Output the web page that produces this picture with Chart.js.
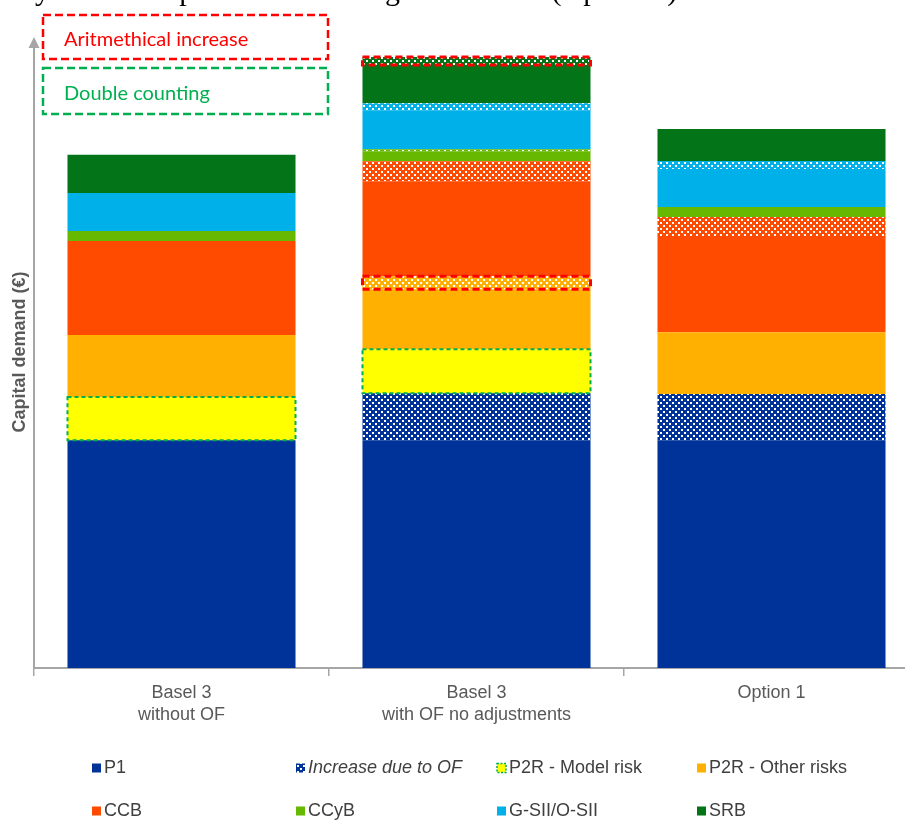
<!DOCTYPE html>
<html lang="en">
<head>
<meta charset="UTF-8">
<title>Capital demand stacking</title>
<script src="https://cdn.jsdelivr.net/npm/chart.js"></script>
<style>
  html, body { margin: 0; padding: 0; background: #fff; overflow: hidden; }
  #wrap { position: relative; width: 920px; height: 820px; }
</style>
</head>
<body>
<div id="wrap"><canvas id="stackChart" width="920" height="820"></canvas></div>
<script>
// categories on the x axis (multi-line labels as arrays)
const categories = [['Basel 3', 'without OF'], ['Basel 3', 'with OF no adjustments'], 'Option 1'];

// layer heights, one arbitrary unit (P1 = 100), bottom to top
const p1         = [100, 100, 100];
const increaseOF = [0, 20.6, 20.2];
const p2rModel   = [18.9, 19.3, 0];
const p2rOther   = [27.2, 26.3, 27.2];
const p2rOtherOF = [0, 5.7, 0];
const ccb        = [41.3, 41.7, 41.7];
const ccbOF      = [0, 8.8, 8.8];
const ccyb       = [4.4, 4.4, 4.4];
const ccybOF     = [0, 0.9, 0];
const gsii       = [16.7, 17.1, 16.7];
const gsiiOF     = [0, 3.1, 3.5];
const srb        = [16.7, 16.7, 14.0];
const srbOF      = [0, 3.5, 0];
const yMax = 280;

const SANS = '"Liberation Sans", Arial, sans-serif';
const RED = '#ff0000';
const GREEN = '#00b050';
const col = {
  p1: '#003399', model: '#ffff00', other: '#ffb000', ccb: '#ff4b00',
  ccyb: '#66b800', gsii: '#00b0e8', srb: '#037518'
};

const canvas = document.getElementById('stackChart');
const ctx = canvas.getContext('2d');

// white dotted fill used for the output-floor increases
function dots(color) {
  const c = document.createElement('canvas');
  c.width = 6; c.height = 6;
  const g = c.getContext('2d');
  g.fillStyle = color; g.fillRect(0, 0, 6, 6);
  g.fillStyle = '#ffffff';
  g.fillRect(0, 0, 2, 2);
  g.fillRect(3, 3, 2, 2);
  return ctx.createPattern(c, 'repeat');
}

const datasets = [
  { label: 'P1', data: p1, backgroundColor: col.p1 },
  { label: 'Increase due to OF', data: increaseOF, backgroundColor: dots(col.p1), italic: true },
  { label: 'P2R - Model risk', data: p2rModel, backgroundColor: col.model, outline: { color: GREEN, bars: [0, 1], width: 2, dash: [4, 3] } },
  { label: 'P2R - Other risks', data: p2rOther, backgroundColor: col.other },
  { label: 'P2R - Other risks (OF)', data: p2rOtherOF, backgroundColor: dots(col.other), noLegend: true, outline: { color: RED, bars: [1], width: 3, dash: [7, 4] } },
  { label: 'CCB', data: ccb, backgroundColor: col.ccb },
  { label: 'CCB (OF)', data: ccbOF, backgroundColor: dots(col.ccb), noLegend: true },
  { label: 'CCyB', data: ccyb, backgroundColor: col.ccyb },
  { label: 'CCyB (OF)', data: ccybOF, backgroundColor: dots(col.ccyb), noLegend: true },
  { label: 'G-SII/O-SII', data: gsii, backgroundColor: col.gsii },
  { label: 'G-SII/O-SII (OF)', data: gsiiOF, backgroundColor: dots(col.gsii), noLegend: true },
  { label: 'SRB', data: srb, backgroundColor: col.srb },
  { label: 'SRB (OF)', data: srbOF, backgroundColor: dots(col.srb), noLegend: true, outline: { color: RED, bars: [1], width: 3, dash: [7, 4] } }
];
datasets.forEach(d => { d.borderWidth = 0; d.barPercentage = 0.773; d.categoryPercentage = 1.0; });

const decorations = {
  id: 'decorations',
  afterDatasetsDraw(chart) {
    const c = chart.ctx;
    chart.data.datasets.forEach((ds, i) => {
      if (!ds.outline) return;
      const meta = chart.getDatasetMeta(i);
      ds.outline.bars.forEach(b => {
        const el = meta.data[b];
        const p = el.getProps(['x', 'y', 'base', 'width'], true);
        c.save();
        c.strokeStyle = ds.outline.color;
        c.lineWidth = ds.outline.width;
        c.setLineDash(ds.outline.dash);
        c.strokeRect(p.x - p.width / 2, p.y, p.width, p.base - p.y);
        c.restore();
      });
    });
  },
  afterDraw(chart) {
    const c = chart.ctx;
    const a = chart.chartArea;
    c.save();

    // clipped heading above the chart (only descenders visible)
    c.fillStyle = '#000';
    c.font = '30px "Liberation Serif", serif';
    c.textBaseline = 'alphabetic';
    c.textAlign = 'left';
    c.fillText('Stylised example of the stacking mechanism (Option 1)', 10, 0);

    // y axis with arrow head
    c.strokeStyle = '#a6a6a6';
    c.fillStyle = '#a6a6a6';
    c.lineWidth = 2;
    c.beginPath();
    c.moveTo(a.left, a.bottom);
    c.lineTo(a.left, a.top + 15);
    c.stroke();
    c.beginPath();
    c.moveTo(a.left, a.top + 7);
    c.lineTo(a.left - 5.5, a.top + 18);
    c.lineTo(a.left + 5.5, a.top + 18);
    c.closePath();
    c.fill();

    // y axis title
    c.save();
    c.translate(20, 352);
    c.rotate(-Math.PI / 2);
    c.fillStyle = '#595959';
    c.font = 'bold 18px ' + SANS;
    c.textAlign = 'center';
    c.textBaseline = 'middle';
    c.fillText('Capital demand (€)', 0, 0);
    c.restore();

    // annotation key boxes
    c.lineWidth = 2.5;
    c.setLineDash([8, 4]);
    c.strokeStyle = RED;
    c.strokeRect(43, 15, 285, 44);
    c.strokeStyle = GREEN;
    c.strokeRect(43, 68, 285, 46);
    c.setLineDash([]);
    c.font = '20px Lato, sans-serif';
    c.textBaseline = 'alphabetic';
    c.fillStyle = RED;
    c.fillText('Aritmethical increase', 64, 46);
    c.fillStyle = GREEN;
    c.fillText('Double counting', 64, 100);

    // legend: 4 columns x 2 rows
    const colsX = [92, 296, 497, 697];
    const rowsY = [768, 811];
    const items = chart.data.datasets.filter(d => !d.noLegend);
    c.textBaseline = 'middle';
    items.forEach((d, i) => {
      const x = colsX[i % 4];
      const y = rowsY[Math.floor(i / 4)];
      c.fillStyle = d.backgroundColor;
      c.fillRect(x, y - 4.5, 9, 9);
      if (d.outline && d.outline.color === GREEN) {
        c.strokeStyle = GREEN;
        c.lineWidth = 1.5;
        c.setLineDash([2, 1.5]);
        c.strokeRect(x, y - 4.5, 9, 9);
        c.setLineDash([]);
      }
      c.fillStyle = '#404040';
      c.font = (d.italic ? 'italic ' : '') + '18px ' + SANS;
      c.fillText(d.label, x + 12, y);
    });
    c.restore();
  }
};

new Chart(ctx, {
  type: 'bar',
  data: { labels: categories, datasets },
  options: {
    responsive: false,
    animation: false,
    devicePixelRatio: 1,
    layout: { padding: { left: 34, top: 30, right: 1, bottom: 0 } },
    plugins: { legend: { display: false }, tooltip: { enabled: false }, title: { display: false } },
    scales: {
      x: {
        stacked: true,
        offset: true,
        grid: { display: true, drawOnChartArea: false, offset: true, color: '#a6a6a6', lineWidth: 1.5, tickLength: 8 },
        border: { color: '#a6a6a6', width: 2 },
        ticks: { color: '#595959', font: { family: SANS, size: 18, lineHeight: 1.17 }, padding: 7, maxRotation: 0, autoSkip: false },
        afterFit(scale) { scale.height = 152; }
      },
      y: { stacked: true, display: false, min: 0, max: yMax }
    }
  },
  plugins: [decorations]
});
</script>
</body>
</html>
